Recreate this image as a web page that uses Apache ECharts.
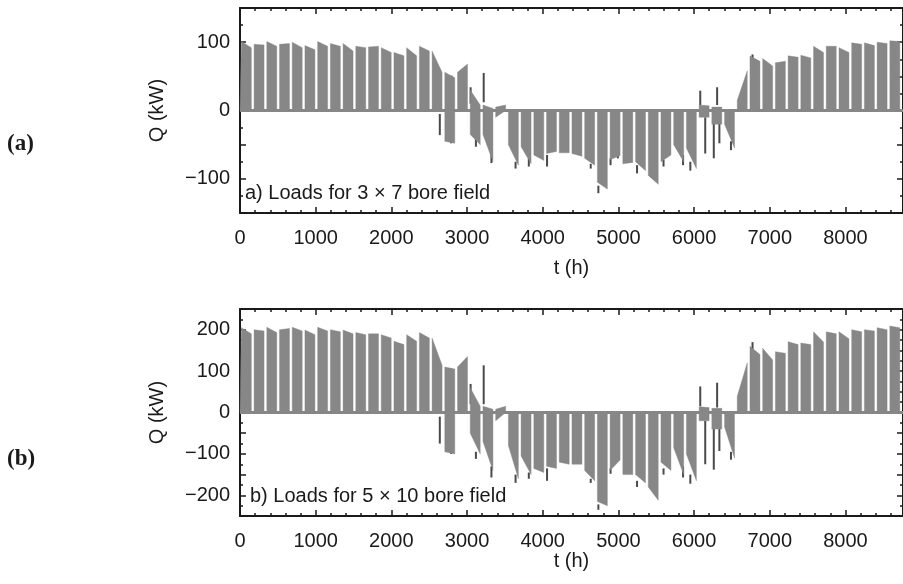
<!DOCTYPE html>
<html>
<head>
<meta charset="utf-8">
<script src="https://cdn.jsdelivr.net/npm/echarts@6/dist/echarts.min.js"></script>
<style>
html, body { margin: 0; background: #fff; }
#chart { width: 903px; height: 584px; }
</style>
</head>
<body>
<div id="chart"></div>
<script>
// weekly load levels (kW), one value per week, 52 weeks; weekends mostly off
var heatStartA = [101,97,101,97,100,95,101,98,98,94, 93,92,85,92,94,87,56,56,30,8, 5,0,0,0,0,0,0,0,0,0, 0,0,0,0,0,0,8,5,0,15, 80,76,70,80,81,94,94,92,99,99, 100,102];
var heatEndA   = [92,96,94,98,92,89,94,94,87,92, 94,85,80,80,87,56,48,68,8,3, 8,0,0,0,0,0,0,0,0,0, 0,0,0,0,0,0,7,5,0,58, 72,65,72,78,77,85,94,85,97,95, 98,101];
var coolStartA = [0,0,0,0,0,0,0,0,0,0, 0,0,0,0,0,0,-45,0,-35,-35, -10,-50,-53,-65,-63,-62,-63,-70,-105,-72, -78,-75,-95,-75,-50,-55,-10,-20,-20,0, 0,0,0,0,0,0,0,0,0,0, 0,0];
var coolEndA   = [0,0,0,0,0,0,0,0,0,0, 0,0,0,0,0,0,-48,0,-50,-75, 0,-80,-78,-73,-60,-62,-67,-80,-115,-66, -76,-88,-108,-65,-75,-85,-10,-20,-55,0, 0,0,0,0,0,0,0,0,0,0, 0,0];

var heatStartB = [205,200,206,200,206,199,206,200,199,193, 190,188,172,188,193,180,110,110,60,15, 8,0,0,0,0,0,0,0,0,0, 0,0,0,0,0,0,14,10,0,39, 160,155,147,171,168,195,195,195,200,200, 205,209];
var heatEndB   = [190,197,193,203,197,188,197,195,190,188, 190,180,164,172,180,114,105,135,15,8, 15,0,0,0,0,0,0,0,0,0, 0,0,0,0,0,0,12,10,0,120, 140,127,143,164,164,170,190,178,195,197, 200,205];
var coolStartB = [0,0,0,0,0,0,0,0,0,0, 0,0,0,0,0,0,-95,0,-50,-70, -20,-80,-105,-135,-130,-120,-125,-140,-215,-140, -150,-150,-180,-120,-85,-100,-20,-40,-35,0, 0,0,0,0,0,0,0,0,0,0, 0,0];
var coolEndB   = [0,0,0,0,0,0,0,0,0,0, 0,0,0,0,0,0,-100,0,-100,-140, 0,-160,-150,-145,-135,-125,-125,-165,-225,-115, -150,-170,-212,-140,-150,-165,-20,-40,-110,0, 0,0,0,0,0,0,0,0,0,0, 0,0];

// hourly peaks (dark streaks): hour, streak start, streak tip
var spikeHours = [2640,2789,2795,3047,3117,3220,3322,3641,3816,4057,4634,4735,4896,4993,5246,5596,5854,5950,6081,6147,6260,6304,6334,6487,6772];
var spikeBaseA = [-5,-40,31,10,-40,12,-60,-75,-70,-65,-78,-110,-70,-65,-80,-72,-65,-75,8,-10,-15,8,-15,-45,72];
var spikeTipA  = [-36,-48,51,34,-53,55,-77,-85,-82,-82,-85,-121,-80,-70,-92,-82,-80,-88,29,-63,-70,34,-48,-58,82];
var spikeBaseB = [-10,-90,70,20,-95,20,-130,-150,-145,-135,-160,-222,-135,-105,-165,-135,-130,-150,15,-20,-30,12,-30,-95,145];
var spikeTipB  = [-75,-100,106,69,-112,114,-157,-170,-160,-165,-170,-235,-148,-112,-180,-150,-157,-172,63,-125,-138,72,-93,-114,170];

var xTicks = [0,1000,2000,3000,4000,5000,6000,7000,8000];

var GRAY = '#878787';
var INK = '#1a1a1a';
var FONT = 'Liberation Sans';

// each week: load on from hour 18 to hour 150 of the week, off around the weekend
function weekLine(startVals, endVals) {
  var pts = [[0, 0]];
  for (var k = 0; k < startVals.length; k++) {
    var s = k * 168 + 18, e = k * 168 + 150;
    pts.push([s, 0], [s, startVals[k]], [e, endVals[k]], [e, 0]);
  }
  pts.push([8760, 0]);
  return pts;
}

function spikeData(base, tip) {
  return spikeHours.map(function (h, i) { return [h, base[i], tip[i]]; });
}

function minus(v) { return String(v).replace('-', '\u2212'); }

function xAxes(grid, gap) {
  var common = {
    type: 'value', gridIndex: grid, min: 0, max: 8760, interval: 1000,
    splitLine: { show: false },
    axisLine: { onZero: false, lineStyle: { color: INK, width: 2 } },
    axisTick: { inside: true, length: 6, lineStyle: { color: INK, width: 1.5 } },
    minorTick: { show: true, splitNumber: 5, length: 3, lineStyle: { color: INK, width: 1.5 } }
  };
  return [
    Object.assign({}, common, {
      position: 'bottom', name: 't (h)', nameLocation: 'middle', nameGap: gap,
      nameTextStyle: { fontFamily: FONT, fontSize: 20, color: INK },
      axisLabel: {
        margin: 15, fontFamily: FONT, fontSize: 20, color: INK, showMaxLabel: false,
        formatter: function (v) { return xTicks.indexOf(v) >= 0 ? String(v) : ''; }
      }
    }),
    Object.assign({}, common, { position: 'top', axisLabel: { show: false } })
  ];
}

function yAxes(grid, lim) {
  var common = {
    type: 'value', gridIndex: grid, min: -lim, max: lim, interval: 50,
    splitLine: { show: false },
    axisLine: { onZero: false, lineStyle: { color: INK, width: 2 } },
    axisTick: { inside: true, length: 6, lineStyle: { color: INK, width: 1.5 } },
    minorTick: { show: true, splitNumber: 2, length: 3, lineStyle: { color: INK, width: 1.5 } }
  };
  return [
    Object.assign({}, common, {
      position: 'left', name: 'Q (kW)', nameLocation: 'middle', nameGap: 73, nameRotate: 90,
      nameTextStyle: { fontFamily: FONT, fontSize: 20, color: INK },
      axisLabel: {
        margin: 10, fontFamily: FONT, fontSize: 20, color: INK,
        formatter: function (v) { return v % 100 === 0 ? minus(v) : ''; }
      }
    }),
    Object.assign({}, common, { position: 'right', axisLabel: { show: false } })
  ];
}

function loadSeries(name, data, axisIdx) {
  return {
    name: name, type: 'line', data: data, xAxisIndex: axisIdx, yAxisIndex: axisIdx,
    showSymbol: false, symbol: 'none', silent: true,
    lineStyle: { color: GRAY, width: 0.4 },
    areaStyle: { color: GRAY, opacity: 1, origin: 0 }
  };
}

function spikeSeries(data, axisIdx) {
  return {
    type: 'custom', data: data, xAxisIndex: axisIdx, yAxisIndex: axisIdx,
    encode: { x: 0, y: [1, 2] }, silent: true,
    renderItem: function (params, api) {
      var p0 = api.coord([api.value(0), api.value(1)]);
      var p1 = api.coord([api.value(0), api.value(2)]);
      return {
        type: 'rect',
        shape: { x: p0[0] - 1, y: Math.min(p0[1], p1[1]), width: 2, height: Math.abs(p1[1] - p0[1]) },
        style: { fill: '#4a4a4a' }
      };
    }
  };
}

function zeroLine(axisIdx) {
  return {
    type: 'line', data: [[0, 0], [8760, 0]], xAxisIndex: axisIdx, yAxisIndex: axisIdx,
    showSymbol: false, symbol: 'none', silent: true, z: 1,
    lineStyle: { color: GRAY, width: 3 }
  };
}

var chart = echarts.init(document.getElementById('chart'), null, { renderer: 'canvas' });

var option = {
  animation: false,
  backgroundColor: '#fff',
  grid: [
    { left: 240, right: -5, top: 8, height: 205 },
    { left: 240, right: -5, top: 309, height: 207 }
  ],
  xAxis: xAxes(0, 45).concat(xAxes(1, 33)),
  yAxis: yAxes(0, 150).concat(yAxes(1, 250)),
  series: [
    zeroLine(0),
    loadSeries('heatA', weekLine(heatStartA, heatEndA), 0),
    loadSeries('coolA', weekLine(coolStartA, coolEndA), 0),
    spikeSeries(spikeData(spikeBaseA, spikeTipA), 0),
    zeroLine(2),
    loadSeries('heatB', weekLine(heatStartB, heatEndB), 2),
    loadSeries('coolB', weekLine(coolStartB, coolEndB), 2),
    spikeSeries(spikeData(spikeBaseB, spikeTipB), 2)
  ],
  graphic: [
    { type: 'text', left: 7, top: 133, style: { text: '(a)', font: 'bold 23px "Liberation Serif"', fill: INK } },
    { type: 'text', left: 7, top: 448, style: { text: '(b)', font: 'bold 23px "Liberation Serif"', fill: INK } },
    { type: 'text', left: 245, top: 183, style: { text: 'a) Loads for 3 \u00d7 7 bore field', font: '20px "Liberation Sans"', fill: INK } },
    { type: 'text', left: 250, top: 486, style: { text: 'b) Loads for 5 \u00d7 10 bore field', font: '20px "Liberation Sans"', fill: INK } }
  ]
};

chart.setOption(option);
window.addEventListener('resize', function () { chart.resize(); });
</script>
</body>
</html>
